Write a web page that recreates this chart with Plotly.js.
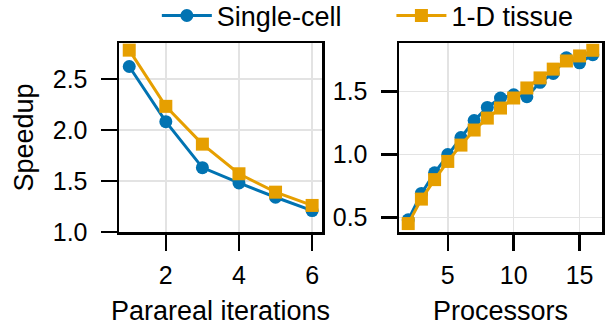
<!DOCTYPE html>
<html>
<head>
<meta charset="utf-8">
<script src="https://cdn.plot.ly/plotly-3.0.1.min.js"></script>
<style>html,body{margin:0;padding:0;background:#fff;}#chart{width:607px;height:326px;}</style>
</head>
<body>
<div id="chart"></div>
<script>
// Left panel: Parareal iterations
const iterations = [1, 2, 3, 4, 5, 6];
const iterSingleCell = [2.62, 2.08, 1.63, 1.48, 1.34, 1.21];
const iterTissue = [2.78, 2.23, 1.86, 1.57, 1.39, 1.26];

// Right panel: Processors
const processors = [2, 3, 4, 5, 6, 7, 8, 9, 10, 11, 12, 13, 14, 15, 16];
const procSingleCell = [0.48, 0.69, 0.855, 1.0, 1.135, 1.27, 1.375, 1.45, 1.475, 1.46, 1.575, 1.645, 1.77, 1.73, 1.795];
const procTissue = [0.45, 0.645, 0.80, 0.945, 1.075, 1.195, 1.29, 1.37, 1.45, 1.53, 1.61, 1.68, 1.745, 1.785, 1.83];

const seriesNames = ["Single-cell", "1-D tissue"];
const leftXTicks = [2, 4, 6];
const leftYTicks = [1.0, 1.5, 2.0, 2.5];
const rightXTicks = [5, 10, 15];
const rightYTicks = [0.5, 1.0, 1.5];

const BLUE = "#0173b2", ORANGE = "#e69f00";
const FONT = "Liberation Sans, Arial, sans-serif";
const PAD = "\u00a0\u00a0\u00a0\u00a0\u00a0\u00a0";

const traces = [
  {x: iterations, y: iterSingleCell, name: seriesNames[0] + PAD, mode: "lines+markers",
   line: {color: BLUE, width: 3}, marker: {symbol: "circle", size: 13, color: BLUE},
   xaxis: "x", yaxis: "y", legendgroup: "a"},
  {x: iterations, y: iterTissue, name: seriesNames[1], mode: "lines+markers",
   line: {color: ORANGE, width: 3}, marker: {symbol: "square", size: 13, color: ORANGE},
   xaxis: "x", yaxis: "y", legendgroup: "b"},
  {x: processors, y: procSingleCell, name: seriesNames[0], mode: "lines+markers",
   line: {color: BLUE, width: 3}, marker: {symbol: "circle", size: 13, color: BLUE},
   xaxis: "x2", yaxis: "y2", showlegend: false, legendgroup: "a"},
  {x: processors, y: procTissue, name: seriesNames[1], mode: "lines+markers",
   line: {color: ORANGE, width: 3}, marker: {symbol: "square", size: 13, color: ORANGE},
   xaxis: "x2", yaxis: "y2", showlegend: false, legendgroup: "b"}
];

const axisCommon = {
  showline: true, linecolor: "#000", linewidth: 2.5, mirror: true,
  ticks: "outside", ticklen: 16, tickwidth: 2.5, tickcolor: "#000",
  showgrid: true, gridcolor: "#e3e3e3", gridwidth: 1.5,
  zeroline: false, tickfont: {size: 25, color: "#000", family: FONT}
};
const titleFont = {size: 27, family: FONT, color: "#000"};

const layout = {
  width: 607, height: 326,
  margin: {l: 0, r: 0, t: 0, b: 0, autoexpand: false},
  paper_bgcolor: "#fff", plot_bgcolor: "#fff",
  font: {family: FONT, color: "#000", size: 25},
  showlegend: true,
  legend: {orientation: "h", xref: "container", yref: "container",
           x: 0.606, xanchor: "center", y: 0.951, yanchor: "middle",
           itemwidth: 50,
           font: {size: 27, family: FONT, color: "#000"}, bgcolor: "rgba(0,0,0,0)"},
  xaxis: Object.assign({}, axisCommon, {domain: [119/607, 322/607], range: [0.72, 6.27],
          tickvals: leftXTicks, ticktext: leftXTicks.map(String), anchor: "y", ticklabelstandoff: 3,
          title: {text: "Parareal iterations", font: titleFont, standoff: 18}}),
  yaxis: Object.assign({}, axisCommon, {domain: [1 - 232/326, 1 - 43/326], range: [1.0, 2.85],
          tickvals: leftYTicks, ticktext: leftYTicks.map(v => v.toFixed(1)), anchor: "x", ticklabelstandoff: 8,
          title: {text: "Speedup", font: titleFont, standoff: 12}}),
  xaxis2: Object.assign({}, axisCommon, {domain: [399/607, 602/607], range: [1.3, 16.7],
          tickvals: rightXTicks, ticktext: rightXTicks.map(String), anchor: "y2", ticklabelstandoff: 3,
          title: {text: "Processors", font: titleFont, standoff: 18}}),
  yaxis2: Object.assign({}, axisCommon, {domain: [1 - 232/326, 1 - 43/326], range: [0.383, 1.888],
          tickvals: rightYTicks, ticktext: rightYTicks.map(v => v.toFixed(1)), anchor: "x2", ticklabelstandoff: 8})
};

Plotly.newPlot("chart", traces, layout, {displayModeBar: false, staticPlot: true});
</script>
</body>
</html>
